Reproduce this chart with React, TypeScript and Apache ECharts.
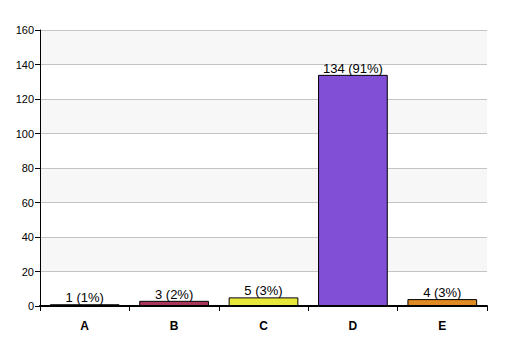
import React, { useEffect, useRef } from "react";
import * as echarts from "echarts";

const categories = ["A", "B", "C", "D", "E"];
const counts = [1, 3, 5, 134, 4];
const percents = ["1%", "2%", "3%", "91%", "3%"];
const colors = ["#1a1a1a", "#a8355a", "#e8e83a", "#804fd6", "#e08a22"];
const yTicks = { min: 0, max: 160, interval: 20 };

export default function App() {
  const ref = useRef<HTMLDivElement>(null);
  useEffect(() => {
    const chart = echarts.init(ref.current!, null, { renderer: "svg" });
    chart.setOption({
      animation: false,
      backgroundColor: "#ffffff",
      grid: { left: 40, right: 20, top: 30, bottom: 50 },
      xAxis: {
        type: "category",
        data: categories,
        axisLine: { lineStyle: { color: "#000", width: 2 } },
        axisTick: { show: true, length: 5, lineStyle: { color: "#000" } },
        axisLabel: {
          color: "#000",
          fontWeight: "bold",
          fontSize: 12,
          fontFamily: "Liberation Sans, Arial, sans-serif",
          margin: 14,
        },
      },
      yAxis: {
        type: "value",
        min: yTicks.min,
        max: yTicks.max,
        interval: yTicks.interval,
        axisLine: { show: true, lineStyle: { color: "#000", width: 1 } },
        axisTick: { show: true, length: 5, lineStyle: { color: "#000" } },
        axisLabel: {
          color: "#000",
          fontSize: 11,
          fontFamily: "Liberation Sans, Arial, sans-serif",
          margin: 6,
        },
        splitLine: { show: true, lineStyle: { color: "#c4c4c4", width: 1 } },
        splitArea: { show: true, areaStyle: { color: ["#ffffff", "#f7f7f7"] } },
      },
      series: [
        {
          type: "bar",
          data: counts.map((v, i) => ({
            value: v,
            itemStyle: { color: colors[i], borderColor: "#000", borderWidth: 1 },
          })),
          barCategoryGap: "22%",
          label: {
            show: true,
            position: "top",
            distance: 0,
            color: "#000",
            textBorderWidth: 0,
            fontSize: 13,
            fontFamily: "Liberation Sans, Arial, sans-serif",
            formatter: (p: any) => `${p.value} (${percents[p.dataIndex]})`,
          },
        },
      ],
    });
    return () => chart.dispose();
  }, []);
  return <div ref={ref} style={{ width: 507, height: 356, position: "absolute", left: 0, top: 0 }} />;
}
